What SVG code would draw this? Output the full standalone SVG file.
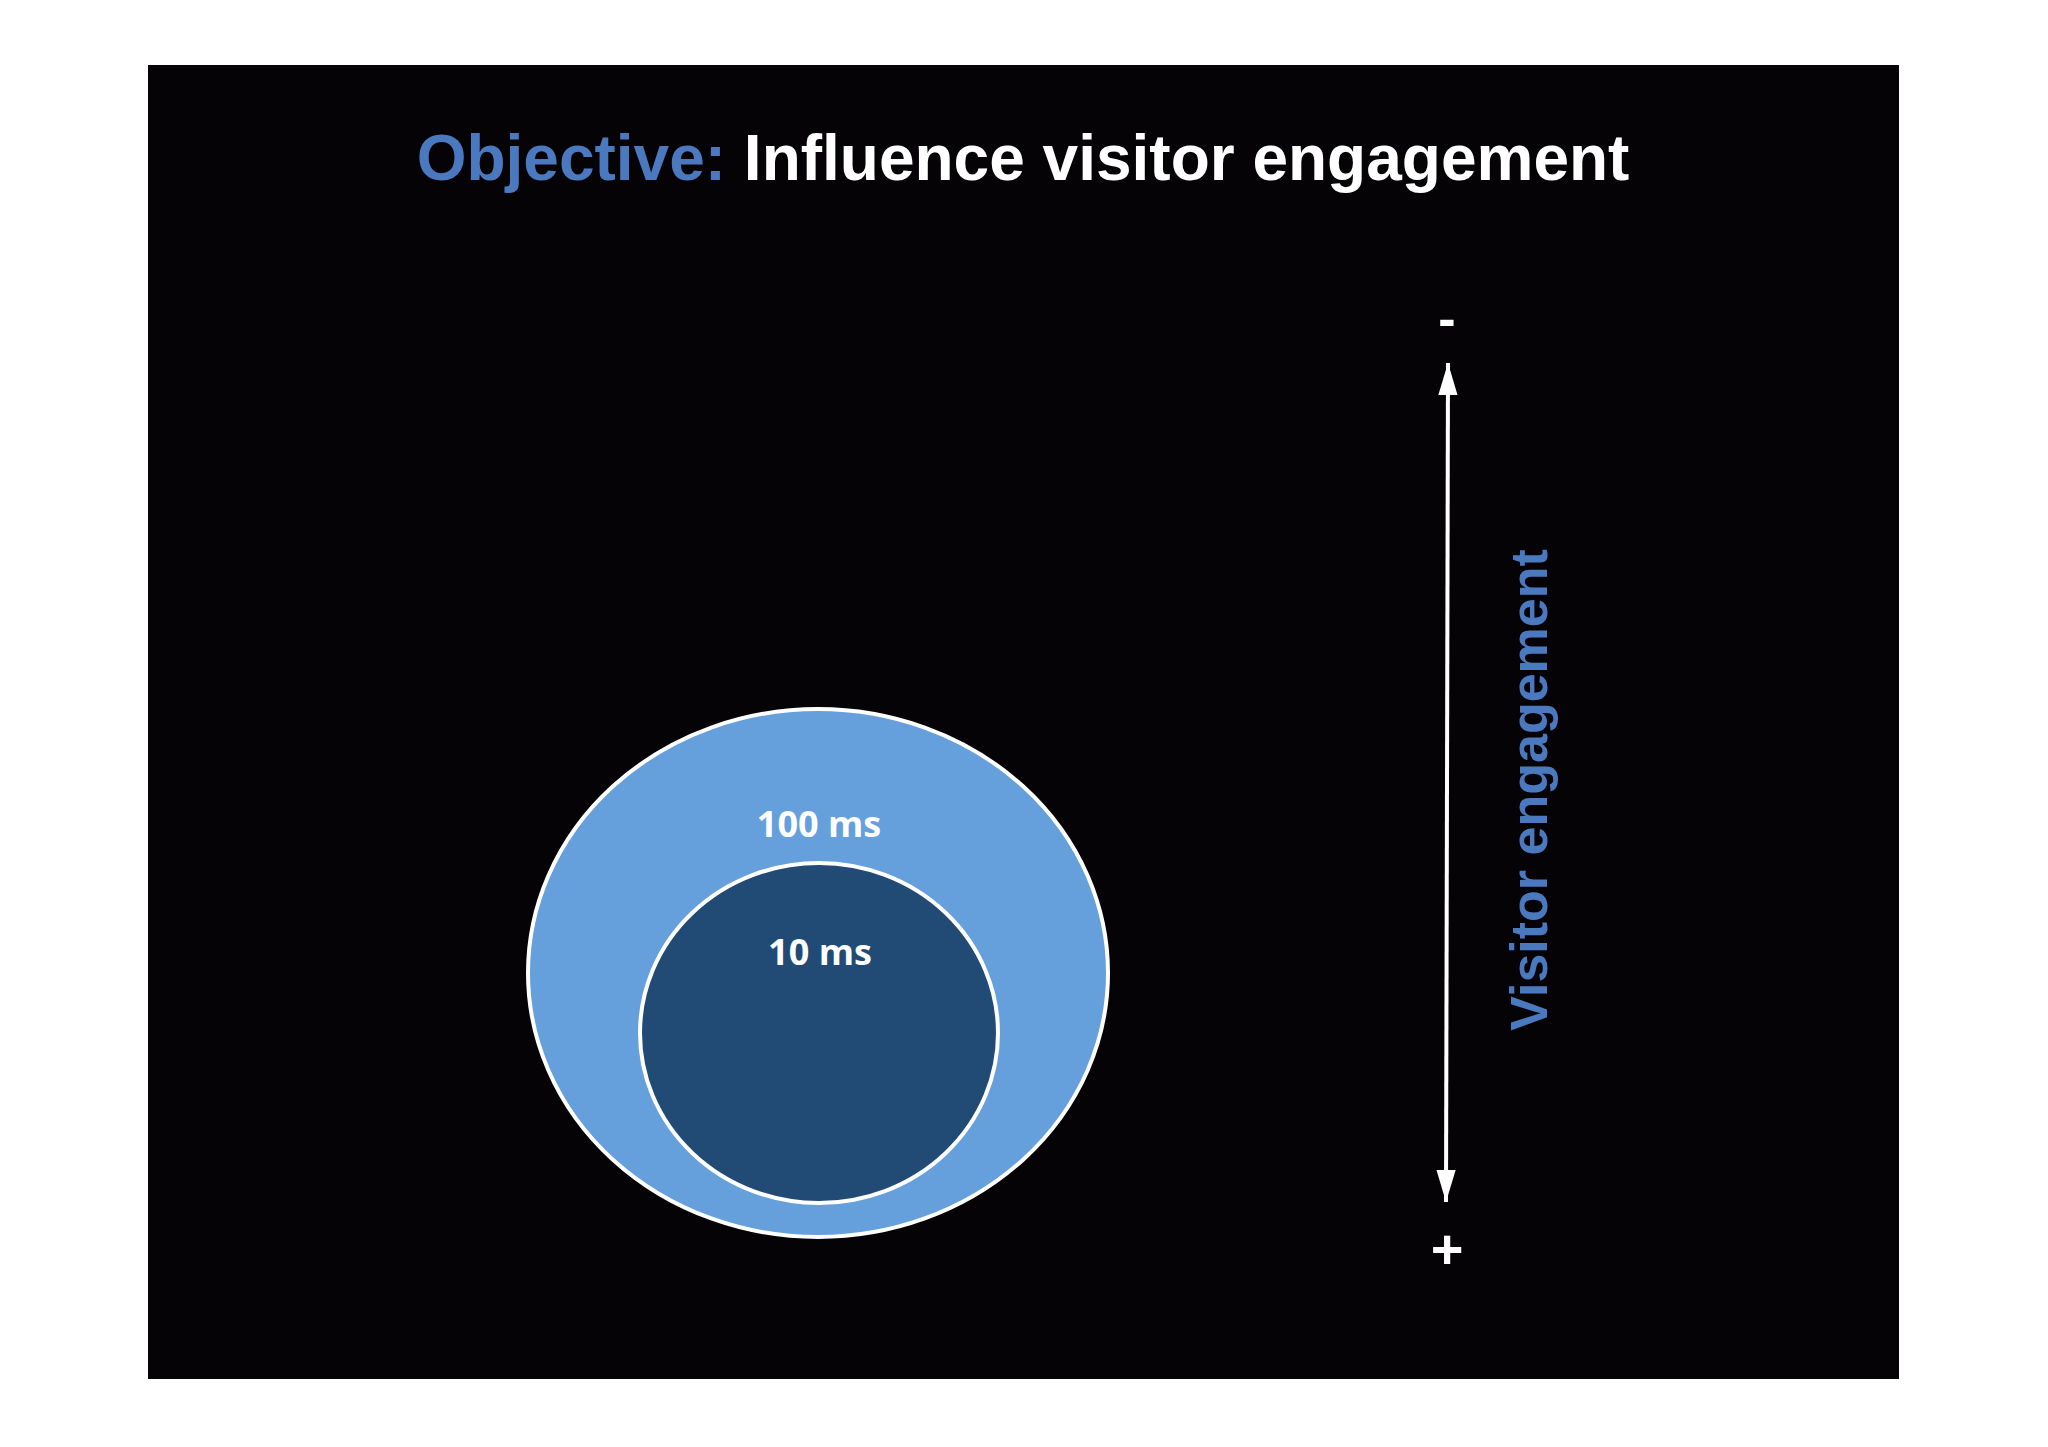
<svg xmlns="http://www.w3.org/2000/svg" width="2048" height="1447" viewBox="0 0 2048 1447">
<style>
.t{font-family:"Liberation Sans",Arial,sans-serif;font-weight:bold}
.l{font-family:"Open Sans","Liberation Sans",sans-serif;font-weight:bold;fill:#fff;font-size:36px}
</style>
<defs>
<marker id="ah" viewBox="0 0 10 10" refX="9" refY="5" markerWidth="10" markerHeight="10" markerUnits="userSpaceOnUse" orient="auto-start-reverse"><path d="M0,0L10,5L0,10z" fill="#fff"/></marker>
<marker id="a" viewBox="0 0 10 10" refX="10" refY="5" markerWidth="32" markerHeight="32" markerUnits="userSpaceOnUse" orient="auto-start-reverse"><path d="M0,2L10,5L0,8z" fill="#fff"/></marker>
</defs>
<rect width="2048" height="1447" fill="#fff"/>
<rect x="148" y="65" width="1751" height="1314" fill="#050306"/>
<text class="t" x="1023" y="180" font-size="64" text-anchor="middle"><tspan fill="#4a79c0">Objective: </tspan><tspan fill="#fff">Influence visitor engagement</tspan></text>
<g id="outer"><ellipse cx="818" cy="973" rx="290" ry="264" fill="#66a0dc" stroke="#fff" stroke-width="4"/><text class="l" x="819" y="837" text-anchor="middle">100 ms</text></g>
<g id="inner"><ellipse cx="819" cy="1033" rx="179" ry="170" fill="#214b75" stroke="#fff" stroke-width="4"/><text class="l" x="820" y="965" text-anchor="middle">10 ms</text></g>
<g id="connectors"><line x1="1448" y1="363" x2="1446" y2="1202" stroke="#fff" stroke-width="4" marker-start="url(#a)" marker-end="url(#a)"/></g>
<text class="t" x="1447" y="336" font-size="52" fill="#fff" text-anchor="middle">-</text>
<text class="t" x="1447" y="1268" font-size="56" fill="#fff" text-anchor="middle">+</text>
<text class="t" transform="translate(1547,790) rotate(-90)" font-size="52" fill="#4a79c0" text-anchor="middle">Visitor engagement</text>
</svg>
